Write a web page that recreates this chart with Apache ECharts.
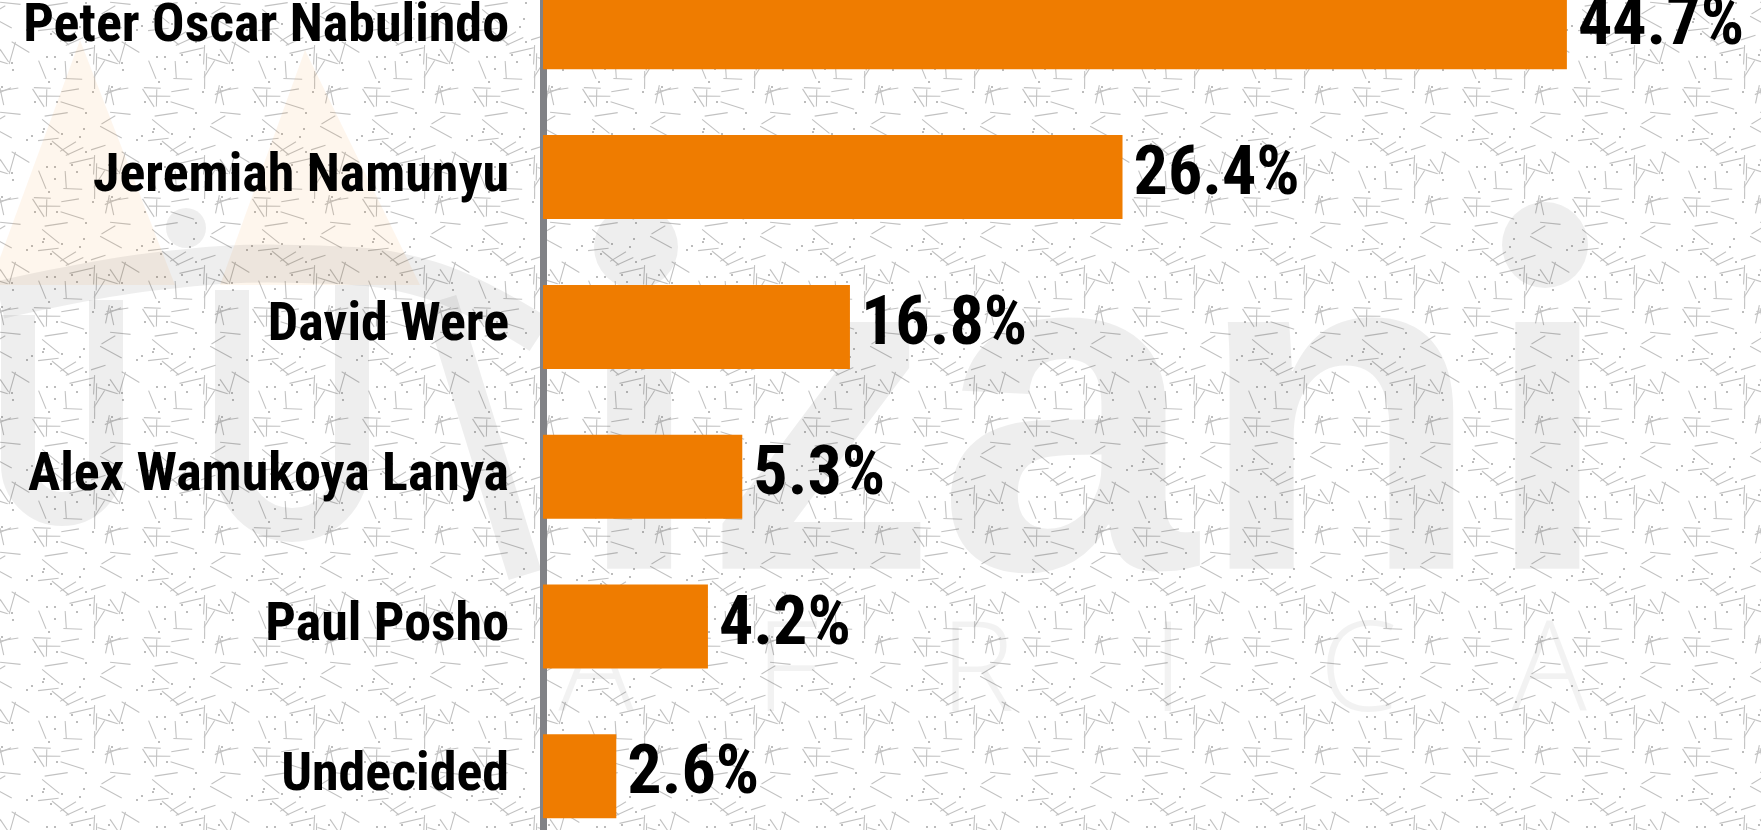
<!DOCTYPE html>
<html lang="en">
<head>
    <meta charset="UTF-8">
    <title>Bungoma poll</title>
    <script src="https://cdn.jsdelivr.net/npm/echarts@6/dist/echarts.min.js"></script>
    <style>
        html, body {
            margin: 0;
            padding: 0;
            background: #fff;
        }

        #chart {
            width: 1761px;
            height: 830px;
        }
    </style>
</head>
<body>
<div id="chart"></div>
<script>
    var candidates = ['Peter Oscar Nabulindo', 'Jeremiah Namunyu', 'David Were', 'Alex Wamukoya Lanya', 'Paul Posho', 'Undecided'];
    // shares as printed next to each bar
    var shares = [44.7, 26.4, 16.8, 5.3, 4.2, 2.6];
    // bar lengths as drawn, read on the scale of the top bar (the picture does not draw them in proportion)
    var barLengths = [44.7, 25.3, 13.4, 8.7, 7.2, 3.2];
    var africaLetters = ['A', 'F', 'R', 'I', 'C', 'A'];

    var narrow = '"Roboto Condensed", "Liberation Sans Narrow", "Arial Narrow", sans-serif';

    // light paper texture of short grey strokes (fixed seed, decoration only)
    function makeTile() {
        var c = document.createElement('canvas');
        c.width = 110;
        c.height = 110;
        var ctx = c.getContext('2d');
        ctx.fillStyle = '#ffffff';
        ctx.fillRect(0, 0, 110, 110);
        var seed = 11;

        function rnd() {
            seed = (seed * 16807) % 2147483647;
            return seed / 2147483647;
        }

        ctx.strokeStyle = '#c2c2c2';
        ctx.lineWidth = 1.1;
        for (var i = 0; i < 32; i++) {
            var x = rnd() * 110, y = rnd() * 110, a = rnd() * Math.PI, len = 15 + rnd() * 10;
            for (var dx = -110; dx <= 110; dx += 110) {
                for (var dy = -110; dy <= 110; dy += 110) {
                    ctx.beginPath();
                    ctx.moveTo(x + dx, y + dy);
                    ctx.lineTo(x + dx + Math.cos(a) * len, y + dy + Math.sin(a) * len);
                    ctx.stroke();
                }
            }
        }
        ctx.fillStyle = '#bcbcbc';
        for (var j = 0; j < 24; j++) {
            ctx.fillRect(Math.floor(rnd() * 110), Math.floor(rnd() * 110), 2, 2);
        }
        return c;
    }

    var chart = echarts.init(document.getElementById('chart'));

    var grey = 'rgba(0,0,0,0.065)';
    var watermark = [
        {
            type: 'rect', z: -10, silent: true,
            shape: {x: 0, y: 0, width: 1761, height: 830},
            style: {fill: {image: makeTile(), repeat: 'repeat'}}
        },
        // logo: two figures
        {
            type: 'polygon', z: -5, silent: true,
            shape: {points: [[80, 40], [-10, 285], [175, 285]]},
            style: {fill: 'rgba(239,125,0,0.07)'}
        },
        {
            type: 'polygon', z: -5, silent: true,
            shape: {points: [[305, 50], [220, 285], [420, 285]]},
            style: {fill: 'rgba(239,125,0,0.07)'}
        },
        {
            type: 'circle', z: -5, silent: true,
            shape: {cx: 186, cy: 228, r: 20},
            style: {fill: grey}
        },
        {
            type: 'polyline', z: -5, silent: true,
            shape: {points: [[0, 300], [150, 272], [300, 264], [430, 280], [540, 335]], smooth: 0.4},
            style: {stroke: grey, lineWidth: 38, fill: null}
        },
        {
            type: 'polyline', z: -5, silent: true,
            shape: {points: [[18, 315], [18, 465]]},
            style: {stroke: grey, lineWidth: 34, fill: null}
        },
        {
            type: 'polyline', z: -5, silent: true,
            shape: {points: [[106, 300], [106, 465]]},
            style: {stroke: grey, lineWidth: 34, fill: null}
        },
        {
            type: 'arc', z: -5, silent: true,
            shape: {cx: 62, cy: 465, r: 44, startAngle: 0, endAngle: Math.PI},
            style: {stroke: grey, lineWidth: 34, fill: null}
        },
        {
            type: 'polyline', z: -5, silent: true,
            shape: {points: [[232, 290], [232, 465]]},
            style: {stroke: grey, lineWidth: 34, fill: null}
        },
        {
            type: 'polyline', z: -5, silent: true,
            shape: {points: [[352, 285], [352, 465]]},
            style: {stroke: grey, lineWidth: 34, fill: null}
        },
        {
            type: 'arc', z: -5, silent: true,
            shape: {cx: 292, cy: 465, r: 60, startAngle: 0, endAngle: Math.PI},
            style: {stroke: grey, lineWidth: 34, fill: null}
        },
        {
            type: 'polyline', z: -5, silent: true,
            shape: {points: [[440, 300], [525, 575]]},
            style: {stroke: grey, lineWidth: 34, fill: null}
        },
        // wordmark, dotless i with round dots
        {
            type: 'text', z: -5, silent: true,
            x: 574, y: 440,
            style: {
                text: '\u0131zan\u0131', fill: grey,
                font: 'bold 467px "Liberation Sans", sans-serif',
                verticalAlign: 'middle'
            }
        },
        {
            type: 'circle', z: -5, silent: true,
            shape: {cx: 636, cy: 247, r: 42},
            style: {fill: grey}
        },
        {
            type: 'circle', z: -5, silent: true,
            shape: {cx: 1545, cy: 245, r: 43},
            style: {fill: grey}
        }
    ];
    africaLetters.forEach(function (ch, i) {
        watermark.push({
            type: 'text', z: -5, silent: true,
            x: 596 + i * 190.6, y: 675,
            style: {
                text: ch, fill: 'rgba(0,0,0,0.05)',
                font: '300 126px "Open Sans", sans-serif',
                align: 'center', verticalAlign: 'middle'
            }
        });
    });

    chart.setOption({
        animation: false,
        backgroundColor: '#ffffff',
        graphic: watermark,
        grid: {
            left: 543,
            right: 4,
            top: -47.6,
            bottom: -21.2,
            outerBoundsMode: 'none'
        },
        xAxis: {
            type: 'value',
            min: 0,
            max: 53,
            show: false
        },
        yAxis: {
            type: 'category',
            data: candidates,
            inverse: true,
            offset: 6,
            axisLine: {lineStyle: {color: '#818286', width: 7}},
            axisTick: {show: false},
            splitLine: {show: false},
            axisLabel: {
                margin: 28,
                color: '#000',
                fontFamily: narrow,
                fontWeight: 'bold',
                fontSize: 54
            }
        },
        series: [{
            type: 'bar',
            data: barLengths,
            barWidth: 84,
            itemStyle: {color: '#ef7c00'},
            label: {
                show: true,
                position: 'right',
                distance: 11,
                color: '#000',
                fontFamily: narrow,
                fontWeight: 'bold',
                fontSize: 68,
                formatter: function (p) {
                    return shares[p.dataIndex].toFixed(1) + '%';
                }
            }
        }]
    });
</script>
</body>
</html>
